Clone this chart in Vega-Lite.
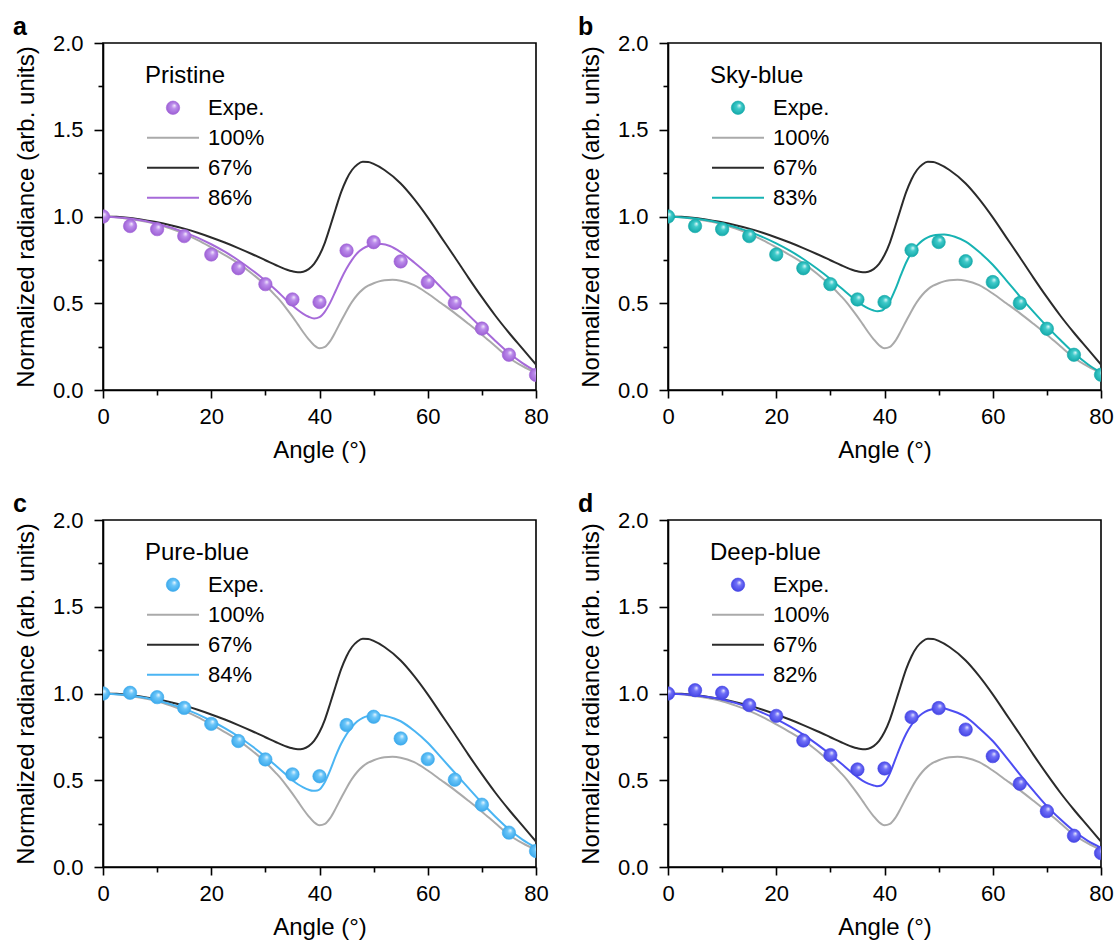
{
  "$schema": "https://vega.github.io/schema/vega-lite/v6.json",
  "autosize": {"type": "pad"},
  "padding": {"left": 12, "top": 14, "right": 5, "bottom": 5},
  "columns": 2,
  "spacing": {"row": 130, "column": 132},
  "bounds": "flush",
  "resolve": {"scale": {"stroke": "independent", "x": "independent", "y": "independent"}, "legend": {"stroke": "independent"}},
  "datasets": {
    "d": [
      {"p":"all","s":"100%","x":0,"y":1.000},{"p":"all","s":"100%","x":2.5,"y":0.996},{"p":"all","s":"100%","x":5,"y":0.985},{"p":"all","s":"100%","x":7.5,"y":0.972},{"p":"all","s":"100%","x":10,"y":0.955},{"p":"all","s":"100%","x":12.5,"y":0.930},{"p":"all","s":"100%","x":15,"y":0.900},{"p":"all","s":"100%","x":17.5,"y":0.864},{"p":"all","s":"100%","x":20,"y":0.822},{"p":"all","s":"100%","x":22.5,"y":0.778},{"p":"all","s":"100%","x":25,"y":0.730},{"p":"all","s":"100%","x":27.5,"y":0.672},{"p":"all","s":"100%","x":30,"y":0.604},{"p":"all","s":"100%","x":32,"y":0.540},{"p":"all","s":"100%","x":33,"y":0.505},{"p":"all","s":"100%","x":34,"y":0.465},{"p":"all","s":"100%","x":35,"y":0.423},{"p":"all","s":"100%","x":36,"y":0.378},{"p":"all","s":"100%","x":37,"y":0.333},{"p":"all","s":"100%","x":38,"y":0.292},{"p":"all","s":"100%","x":39,"y":0.258},{"p":"all","s":"100%","x":40,"y":0.241},{"p":"all","s":"100%","x":41,"y":0.249},{"p":"all","s":"100%","x":42,"y":0.283},{"p":"all","s":"100%","x":43,"y":0.338},{"p":"all","s":"100%","x":44,"y":0.398},{"p":"all","s":"100%","x":45,"y":0.456},{"p":"all","s":"100%","x":46,"y":0.508},{"p":"all","s":"100%","x":47,"y":0.549},{"p":"all","s":"100%","x":48,"y":0.580},{"p":"all","s":"100%","x":49,"y":0.601},{"p":"all","s":"100%","x":50,"y":0.615},{"p":"all","s":"100%","x":51,"y":0.626},{"p":"all","s":"100%","x":52,"y":0.632},{"p":"all","s":"100%","x":53.5,"y":0.635},{"p":"all","s":"100%","x":55,"y":0.630},{"p":"all","s":"100%","x":57.5,"y":0.604},{"p":"all","s":"100%","x":60,"y":0.556},{"p":"all","s":"100%","x":62.5,"y":0.500},{"p":"all","s":"100%","x":65,"y":0.443},{"p":"all","s":"100%","x":67.5,"y":0.382},{"p":"all","s":"100%","x":70,"y":0.319},{"p":"all","s":"100%","x":72.5,"y":0.252},{"p":"all","s":"100%","x":75,"y":0.186},{"p":"all","s":"100%","x":77.5,"y":0.137},{"p":"all","s":"100%","x":80,"y":0.098},

      {"p":"all","s":"67%","x":0,"y":1.000},{"p":"all","s":"67%","x":2.5,"y":0.998},{"p":"all","s":"67%","x":5,"y":0.991},{"p":"all","s":"67%","x":7.5,"y":0.980},{"p":"all","s":"67%","x":10,"y":0.967},{"p":"all","s":"67%","x":12.5,"y":0.950},{"p":"all","s":"67%","x":15,"y":0.930},{"p":"all","s":"67%","x":17.5,"y":0.906},{"p":"all","s":"67%","x":20,"y":0.879},{"p":"all","s":"67%","x":22.5,"y":0.850},{"p":"all","s":"67%","x":25,"y":0.818},{"p":"all","s":"67%","x":27.5,"y":0.784},{"p":"all","s":"67%","x":30,"y":0.748},{"p":"all","s":"67%","x":32,"y":0.719},{"p":"all","s":"67%","x":33,"y":0.705},{"p":"all","s":"67%","x":34,"y":0.693},{"p":"all","s":"67%","x":35,"y":0.684},{"p":"all","s":"67%","x":36,"y":0.679},{"p":"all","s":"67%","x":37,"y":0.682},{"p":"all","s":"67%","x":38,"y":0.697},{"p":"all","s":"67%","x":39,"y":0.727},{"p":"all","s":"67%","x":40,"y":0.778},{"p":"all","s":"67%","x":41,"y":0.850},{"p":"all","s":"67%","x":42,"y":0.945},{"p":"all","s":"67%","x":43,"y":1.045},{"p":"all","s":"67%","x":44,"y":1.140},{"p":"all","s":"67%","x":45,"y":1.215},{"p":"all","s":"67%","x":46,"y":1.268},{"p":"all","s":"67%","x":47,"y":1.300},{"p":"all","s":"67%","x":48,"y":1.315},{"p":"all","s":"67%","x":49,"y":1.314},{"p":"all","s":"67%","x":50,"y":1.303},{"p":"all","s":"67%","x":52,"y":1.268},{"p":"all","s":"67%","x":55,"y":1.190},{"p":"all","s":"67%","x":57.5,"y":1.100},{"p":"all","s":"67%","x":60,"y":0.995},{"p":"all","s":"67%","x":62.5,"y":0.880},{"p":"all","s":"67%","x":65,"y":0.765},{"p":"all","s":"67%","x":67.5,"y":0.648},{"p":"all","s":"67%","x":70,"y":0.535},{"p":"all","s":"67%","x":72.5,"y":0.428},{"p":"all","s":"67%","x":75,"y":0.330},{"p":"all","s":"67%","x":77.5,"y":0.238},{"p":"all","s":"67%","x":80,"y":0.146},

      {"p":"a","s":"86%","x":0,"y":1.000},{"p":"a","s":"86%","x":5,"y":0.988},{"p":"a","s":"86%","x":10,"y":0.958},{"p":"a","s":"86%","x":15,"y":0.910},{"p":"a","s":"86%","x":20,"y":0.840},{"p":"a","s":"86%","x":22.5,"y":0.797},{"p":"a","s":"86%","x":25,"y":0.748},{"p":"a","s":"86%","x":27.5,"y":0.692},{"p":"a","s":"86%","x":30,"y":0.630},{"p":"a","s":"86%","x":32,"y":0.575},{"p":"a","s":"86%","x":34,"y":0.515},{"p":"a","s":"86%","x":35,"y":0.487},{"p":"a","s":"86%","x":36,"y":0.461},{"p":"a","s":"86%","x":37,"y":0.439},{"p":"a","s":"86%","x":38,"y":0.422},{"p":"a","s":"86%","x":39,"y":0.412},{"p":"a","s":"86%","x":40,"y":0.420},{"p":"a","s":"86%","x":41,"y":0.452},{"p":"a","s":"86%","x":42,"y":0.505},{"p":"a","s":"86%","x":43,"y":0.572},{"p":"a","s":"86%","x":44,"y":0.640},{"p":"a","s":"86%","x":45,"y":0.700},{"p":"a","s":"86%","x":46,"y":0.750},{"p":"a","s":"86%","x":47,"y":0.790},{"p":"a","s":"86%","x":48,"y":0.815},{"p":"a","s":"86%","x":49,"y":0.830},{"p":"a","s":"86%","x":50,"y":0.838},{"p":"a","s":"86%","x":51.5,"y":0.841},{"p":"a","s":"86%","x":53,"y":0.830},{"p":"a","s":"86%","x":55,"y":0.795},{"p":"a","s":"86%","x":57.5,"y":0.735},{"p":"a","s":"86%","x":60,"y":0.668},{"p":"a","s":"86%","x":62.5,"y":0.590},{"p":"a","s":"86%","x":65,"y":0.511},{"p":"a","s":"86%","x":67.5,"y":0.433},{"p":"a","s":"86%","x":70,"y":0.357},{"p":"a","s":"86%","x":72.5,"y":0.283},{"p":"a","s":"86%","x":75,"y":0.213},{"p":"a","s":"86%","x":77.5,"y":0.155},{"p":"a","s":"86%","x":80,"y":0.107},

      {"p":"b","s":"83%","x":0,"y":1.000},{"p":"b","s":"83%","x":5,"y":0.988},{"p":"b","s":"83%","x":10,"y":0.960},{"p":"b","s":"83%","x":15,"y":0.913},{"p":"b","s":"83%","x":20,"y":0.845},{"p":"b","s":"83%","x":22.5,"y":0.803},{"p":"b","s":"83%","x":25,"y":0.755},{"p":"b","s":"83%","x":27.5,"y":0.700},{"p":"b","s":"83%","x":30,"y":0.640},{"p":"b","s":"83%","x":32,"y":0.588},{"p":"b","s":"83%","x":34,"y":0.535},{"p":"b","s":"83%","x":35,"y":0.510},{"p":"b","s":"83%","x":36,"y":0.488},{"p":"b","s":"83%","x":37,"y":0.470},{"p":"b","s":"83%","x":38,"y":0.458},{"p":"b","s":"83%","x":38.7,"y":0.454},{"p":"b","s":"83%","x":39.5,"y":0.458},{"p":"b","s":"83%","x":40,"y":0.470},{"p":"b","s":"83%","x":41,"y":0.512},{"p":"b","s":"83%","x":42,"y":0.580},{"p":"b","s":"83%","x":43,"y":0.660},{"p":"b","s":"83%","x":44,"y":0.735},{"p":"b","s":"83%","x":45,"y":0.792},{"p":"b","s":"83%","x":46,"y":0.832},{"p":"b","s":"83%","x":47,"y":0.861},{"p":"b","s":"83%","x":48,"y":0.880},{"p":"b","s":"83%","x":49,"y":0.891},{"p":"b","s":"83%","x":50,"y":0.895},{"p":"b","s":"83%","x":51,"y":0.896},{"p":"b","s":"83%","x":52,"y":0.892},{"p":"b","s":"83%","x":53,"y":0.883},{"p":"b","s":"83%","x":55,"y":0.855},{"p":"b","s":"83%","x":57.5,"y":0.795},{"p":"b","s":"83%","x":60,"y":0.722},{"p":"b","s":"83%","x":62.5,"y":0.632},{"p":"b","s":"83%","x":65,"y":0.540},{"p":"b","s":"83%","x":67.5,"y":0.452},{"p":"b","s":"83%","x":70,"y":0.367},{"p":"b","s":"83%","x":72.5,"y":0.288},{"p":"b","s":"83%","x":75,"y":0.213},{"p":"b","s":"83%","x":77.5,"y":0.150},{"p":"b","s":"83%","x":80,"y":0.100},

      {"p":"c","s":"84%","x":0,"y":1.000},{"p":"c","s":"84%","x":5,"y":0.988},{"p":"c","s":"84%","x":10,"y":0.960},{"p":"c","s":"84%","x":15,"y":0.913},{"p":"c","s":"84%","x":20,"y":0.843},{"p":"c","s":"84%","x":22.5,"y":0.800},{"p":"c","s":"84%","x":25,"y":0.752},{"p":"c","s":"84%","x":27.5,"y":0.697},{"p":"c","s":"84%","x":30,"y":0.636},{"p":"c","s":"84%","x":32,"y":0.582},{"p":"c","s":"84%","x":34,"y":0.527},{"p":"c","s":"84%","x":35,"y":0.500},{"p":"c","s":"84%","x":36,"y":0.477},{"p":"c","s":"84%","x":37,"y":0.459},{"p":"c","s":"84%","x":38,"y":0.445},{"p":"c","s":"84%","x":38.8,"y":0.439},{"p":"c","s":"84%","x":39.6,"y":0.441},{"p":"c","s":"84%","x":40,"y":0.447},{"p":"c","s":"84%","x":41,"y":0.490},{"p":"c","s":"84%","x":42,"y":0.560},{"p":"c","s":"84%","x":43,"y":0.640},{"p":"c","s":"84%","x":44,"y":0.710},{"p":"c","s":"84%","x":45,"y":0.765},{"p":"c","s":"84%","x":46,"y":0.808},{"p":"c","s":"84%","x":47,"y":0.840},{"p":"c","s":"84%","x":48,"y":0.860},{"p":"c","s":"84%","x":49,"y":0.870},{"p":"c","s":"84%","x":50,"y":0.875},{"p":"c","s":"84%","x":51,"y":0.876},{"p":"c","s":"84%","x":52,"y":0.872},{"p":"c","s":"84%","x":53.8,"y":0.856},{"p":"c","s":"84%","x":55,"y":0.840},{"p":"c","s":"84%","x":57.5,"y":0.785},{"p":"c","s":"84%","x":60,"y":0.716},{"p":"c","s":"84%","x":62.5,"y":0.630},{"p":"c","s":"84%","x":65,"y":0.543},{"p":"c","s":"84%","x":67.5,"y":0.456},{"p":"c","s":"84%","x":70,"y":0.370},{"p":"c","s":"84%","x":72.5,"y":0.290},{"p":"c","s":"84%","x":75,"y":0.217},{"p":"c","s":"84%","x":77.5,"y":0.158},{"p":"c","s":"84%","x":80,"y":0.111},

      {"p":"d","s":"82%","x":0,"y":1.000},{"p":"d","s":"82%","x":5,"y":0.990},{"p":"d","s":"82%","x":10,"y":0.965},{"p":"d","s":"82%","x":15,"y":0.920},{"p":"d","s":"82%","x":20,"y":0.852},{"p":"d","s":"82%","x":22.5,"y":0.810},{"p":"d","s":"82%","x":25,"y":0.763},{"p":"d","s":"82%","x":27.5,"y":0.708},{"p":"d","s":"82%","x":30,"y":0.648},{"p":"d","s":"82%","x":32,"y":0.596},{"p":"d","s":"82%","x":34,"y":0.543},{"p":"d","s":"82%","x":35,"y":0.518},{"p":"d","s":"82%","x":36,"y":0.497},{"p":"d","s":"82%","x":37,"y":0.481},{"p":"d","s":"82%","x":38,"y":0.470},{"p":"d","s":"82%","x":38.6,"y":0.466},{"p":"d","s":"82%","x":39.4,"y":0.470},{"p":"d","s":"82%","x":40,"y":0.486},{"p":"d","s":"82%","x":41,"y":0.540},{"p":"d","s":"82%","x":42,"y":0.620},{"p":"d","s":"82%","x":43,"y":0.700},{"p":"d","s":"82%","x":44,"y":0.768},{"p":"d","s":"82%","x":45,"y":0.820},{"p":"d","s":"82%","x":46,"y":0.858},{"p":"d","s":"82%","x":47,"y":0.885},{"p":"d","s":"82%","x":48,"y":0.902},{"p":"d","s":"82%","x":49,"y":0.911},{"p":"d","s":"82%","x":50,"y":0.914},{"p":"d","s":"82%","x":51,"y":0.913},{"p":"d","s":"82%","x":52,"y":0.905},{"p":"d","s":"82%","x":53.5,"y":0.889},{"p":"d","s":"82%","x":55,"y":0.865},{"p":"d","s":"82%","x":57.5,"y":0.800},{"p":"d","s":"82%","x":60,"y":0.726},{"p":"d","s":"82%","x":62.5,"y":0.632},{"p":"d","s":"82%","x":65,"y":0.534},{"p":"d","s":"82%","x":67.5,"y":0.440},{"p":"d","s":"82%","x":70,"y":0.351},{"p":"d","s":"82%","x":72.5,"y":0.275},{"p":"d","s":"82%","x":75,"y":0.207},{"p":"d","s":"82%","x":77.5,"y":0.152},{"p":"d","s":"82%","x":80,"y":0.111},

      {"p":"a","s":"Expe.","x":0,"y":1.0},{"p":"a","s":"Expe.","x":5,"y":0.945},{"p":"a","s":"Expe.","x":10,"y":0.927},{"p":"a","s":"Expe.","x":15,"y":0.887},{"p":"a","s":"Expe.","x":20,"y":0.781},{"p":"a","s":"Expe.","x":25,"y":0.702},{"p":"a","s":"Expe.","x":30,"y":0.610},{"p":"a","s":"Expe.","x":35,"y":0.522},{"p":"a","s":"Expe.","x":40,"y":0.507},{"p":"a","s":"Expe.","x":45,"y":0.804},{"p":"a","s":"Expe.","x":50,"y":0.852},{"p":"a","s":"Expe.","x":55,"y":0.741},{"p":"a","s":"Expe.","x":60,"y":0.622},{"p":"a","s":"Expe.","x":65,"y":0.502},{"p":"a","s":"Expe.","x":70,"y":0.354},{"p":"a","s":"Expe.","x":75,"y":0.203},{"p":"a","s":"Expe.","x":80,"y":0.087},

      {"p":"b","s":"Expe.","x":0,"y":1.0},{"p":"b","s":"Expe.","x":5,"y":0.945},{"p":"b","s":"Expe.","x":10,"y":0.927},{"p":"b","s":"Expe.","x":15,"y":0.887},{"p":"b","s":"Expe.","x":20,"y":0.781},{"p":"b","s":"Expe.","x":25,"y":0.702},{"p":"b","s":"Expe.","x":30,"y":0.610},{"p":"b","s":"Expe.","x":35,"y":0.522},{"p":"b","s":"Expe.","x":40,"y":0.507},{"p":"b","s":"Expe.","x":45,"y":0.806},{"p":"b","s":"Expe.","x":50,"y":0.853},{"p":"b","s":"Expe.","x":55,"y":0.742},{"p":"b","s":"Expe.","x":60,"y":0.622},{"p":"b","s":"Expe.","x":65,"y":0.501},{"p":"b","s":"Expe.","x":70,"y":0.353},{"p":"b","s":"Expe.","x":75,"y":0.203},{"p":"b","s":"Expe.","x":80,"y":0.088},

      {"p":"c","s":"Expe.","x":0,"y":1.0},{"p":"c","s":"Expe.","x":5,"y":1.004},{"p":"c","s":"Expe.","x":10,"y":0.979},{"p":"c","s":"Expe.","x":15,"y":0.917},{"p":"c","s":"Expe.","x":20,"y":0.825},{"p":"c","s":"Expe.","x":25,"y":0.726},{"p":"c","s":"Expe.","x":30,"y":0.620},{"p":"c","s":"Expe.","x":35,"y":0.534},{"p":"c","s":"Expe.","x":40,"y":0.523},{"p":"c","s":"Expe.","x":45,"y":0.818},{"p":"c","s":"Expe.","x":50,"y":0.866},{"p":"c","s":"Expe.","x":55,"y":0.741},{"p":"c","s":"Expe.","x":60,"y":0.622},{"p":"c","s":"Expe.","x":65,"y":0.503},{"p":"c","s":"Expe.","x":70,"y":0.359},{"p":"c","s":"Expe.","x":75,"y":0.198},{"p":"c","s":"Expe.","x":80,"y":0.092},

      {"p":"d","s":"Expe.","x":0,"y":1.0},{"p":"d","s":"Expe.","x":5,"y":1.019},{"p":"d","s":"Expe.","x":10,"y":1.004},{"p":"d","s":"Expe.","x":15,"y":0.933},{"p":"d","s":"Expe.","x":20,"y":0.871},{"p":"d","s":"Expe.","x":25,"y":0.729},{"p":"d","s":"Expe.","x":30,"y":0.645},{"p":"d","s":"Expe.","x":35,"y":0.562},{"p":"d","s":"Expe.","x":40,"y":0.568},{"p":"d","s":"Expe.","x":45,"y":0.864},{"p":"d","s":"Expe.","x":50,"y":0.916},{"p":"d","s":"Expe.","x":55,"y":0.792},{"p":"d","s":"Expe.","x":60,"y":0.639},{"p":"d","s":"Expe.","x":65,"y":0.480},{"p":"d","s":"Expe.","x":70,"y":0.322},{"p":"d","s":"Expe.","x":75,"y":0.180},{"p":"d","s":"Expe.","x":80,"y":0.080}
    ]
  },
  "data": {"name": "d"},
  "concat": [
    {
      "width": 433, "height": 347,
      "title": {"text": "a"},
      "transform": [{"filter": "datum.p === 'a' || datum.p === 'all'"}],
      "encoding": {
        "x": {"field": "x", "type": "quantitative", "scale": {"domain": [0, 80], "nice": false}, "axis": {"values": [0,10,20,30,40,50,60,70,80], "tickSize": {"condition": {"test": "datum.value % 20 === 0", "value": 8}, "value": 5}, "labelExpr": "datum.value % 20 === 0 ? datum.label : ''", "labelPadding": 8, "title": "Angle (°)", "titlePadding": 11, "labelFlush": false}},
        "y": {"field": "y", "type": "quantitative", "scale": {"domain": [0, 2], "nice": false}, "axis": {"values": [0,0.25,0.5,0.75,1,1.25,1.5,1.75,2], "format": ".1f", "tickSize": {"condition": {"test": "datum.value % 0.5 === 0", "value": 9}, "value": 5}, "labelExpr": "datum.value % 0.5 === 0 ? datum.label : ''", "labelPadding": 11, "title": "Normalized radiance (arb. units)", "titlePadding": 14, "labelFlush": false}},
        "stroke": {"field": "s", "type": "nominal", "scale": {"domain": ["Expe.", "100%", "67%", "86%"], "range": ["#9f62d6", "#aaaaaa", "#2b2b2b", "#a66ad9"]},
          "legend": {"title": "Pristine", "orient": "none", "legendX": 42, "legendY": 21,
            "encode": {"symbols": {"update": {"x": {"value": 28}, "shape": {"signal": "datum.value === 'Expe.' ? 'circle' : 'stroke'"}, "size": {"signal": "datum.value === 'Expe.' ? 180 : 2704"}, "fill": {"value": {"gradient": "radial", "x1": 0.62, "y1": 0.32, "r1": 0, "x2": 0.5, "y2": 0.5, "r2": 0.55, "stops": [{"offset": 0, "color": "#f6eefd"}, {"offset": 0.35, "color": "#bb8ceb"}, {"offset": 1, "color": "#9a5bd2"}]}}, "strokeWidth": {"signal": "datum.value === 'Expe.' ? 0.6 : 2"}}}, "labels": {"update": {"x": {"value": 63}}}}}}
      },
      "layer": [
        {"transform": [{"filter": "datum.s !== 'Expe.'"}], "mark": {"type": "line", "strokeWidth": 2, "interpolate": "monotone", "clip": true}},
        {"transform": [{"filter": "datum.s === 'Expe.'"}], "mark": {"type": "point", "filled": true, "opacity": 1, "size": 180, "strokeWidth": 0.6, "clip": true,
          "fill": {"gradient": "radial", "x1": 0.62, "y1": 0.32, "r1": 0, "x2": 0.5, "y2": 0.5, "r2": 0.55, "stops": [{"offset": 0, "color": "#f6eefd"}, {"offset": 0.35, "color": "#bb8ceb"}, {"offset": 1, "color": "#9a5bd2"}]}}}
      ]
    },
    {
      "width": 433, "height": 347,
      "title": {"text": "b"},
      "transform": [{"filter": "datum.p === 'b' || datum.p === 'all'"}],
      "encoding": {
        "x": {"field": "x", "type": "quantitative", "scale": {"domain": [0, 80], "nice": false}, "axis": {"values": [0,10,20,30,40,50,60,70,80], "tickSize": {"condition": {"test": "datum.value % 20 === 0", "value": 8}, "value": 5}, "labelExpr": "datum.value % 20 === 0 ? datum.label : ''", "labelPadding": 8, "title": "Angle (°)", "titlePadding": 11, "labelFlush": false}},
        "y": {"field": "y", "type": "quantitative", "scale": {"domain": [0, 2], "nice": false}, "axis": {"values": [0,0.25,0.5,0.75,1,1.25,1.5,1.75,2], "format": ".1f", "tickSize": {"condition": {"test": "datum.value % 0.5 === 0", "value": 9}, "value": 5}, "labelExpr": "datum.value % 0.5 === 0 ? datum.label : ''", "labelPadding": 11, "title": "Normalized radiance (arb. units)", "titlePadding": 14, "labelFlush": false}},
        "stroke": {"field": "s", "type": "nominal", "scale": {"domain": ["Expe.", "100%", "67%", "83%"], "range": ["#12a9a9", "#aaaaaa", "#2b2b2b", "#17b3b3"]},
          "legend": {"title": "Sky-blue", "orient": "none", "legendX": 42, "legendY": 21,
            "encode": {"symbols": {"update": {"x": {"value": 28}, "shape": {"signal": "datum.value === 'Expe.' ? 'circle' : 'stroke'"}, "size": {"signal": "datum.value === 'Expe.' ? 180 : 2704"}, "fill": {"value": {"gradient": "radial", "x1": 0.62, "y1": 0.32, "r1": 0, "x2": 0.5, "y2": 0.5, "r2": 0.55, "stops": [{"offset": 0, "color": "#e4fbfb"}, {"offset": 0.35, "color": "#3fcaca"}, {"offset": 1, "color": "#10a6a6"}]}}, "strokeWidth": {"signal": "datum.value === 'Expe.' ? 0.6 : 2"}}}, "labels": {"update": {"x": {"value": 63}}}}}}
      },
      "layer": [
        {"transform": [{"filter": "datum.s !== 'Expe.'"}], "mark": {"type": "line", "strokeWidth": 2, "interpolate": "monotone", "clip": true}},
        {"transform": [{"filter": "datum.s === 'Expe.'"}], "mark": {"type": "point", "filled": true, "opacity": 1, "size": 180, "strokeWidth": 0.6, "clip": true,
          "fill": {"gradient": "radial", "x1": 0.62, "y1": 0.32, "r1": 0, "x2": 0.5, "y2": 0.5, "r2": 0.55, "stops": [{"offset": 0, "color": "#e4fbfb"}, {"offset": 0.35, "color": "#3fcaca"}, {"offset": 1, "color": "#10a6a6"}]}}}
      ]
    },
    {
      "width": 433, "height": 347,
      "title": {"text": "c"},
      "transform": [{"filter": "datum.p === 'c' || datum.p === 'all'"}],
      "encoding": {
        "x": {"field": "x", "type": "quantitative", "scale": {"domain": [0, 80], "nice": false}, "axis": {"values": [0,10,20,30,40,50,60,70,80], "tickSize": {"condition": {"test": "datum.value % 20 === 0", "value": 8}, "value": 5}, "labelExpr": "datum.value % 20 === 0 ? datum.label : ''", "labelPadding": 8, "title": "Angle (°)", "titlePadding": 11, "labelFlush": false}},
        "y": {"field": "y", "type": "quantitative", "scale": {"domain": [0, 2], "nice": false}, "axis": {"values": [0,0.25,0.5,0.75,1,1.25,1.5,1.75,2], "format": ".1f", "tickSize": {"condition": {"test": "datum.value % 0.5 === 0", "value": 9}, "value": 5}, "labelExpr": "datum.value % 0.5 === 0 ? datum.label : ''", "labelPadding": 11, "title": "Normalized radiance (arb. units)", "titlePadding": 14, "labelFlush": false}},
        "stroke": {"field": "s", "type": "nominal", "scale": {"domain": ["Expe.", "100%", "67%", "84%"], "range": ["#3aa9ec", "#aaaaaa", "#2b2b2b", "#4bb5f3"]},
          "legend": {"title": "Pure-blue", "orient": "none", "legendX": 42, "legendY": 21,
            "encode": {"symbols": {"update": {"x": {"value": 28}, "shape": {"signal": "datum.value === 'Expe.' ? 'circle' : 'stroke'"}, "size": {"signal": "datum.value === 'Expe.' ? 180 : 2704"}, "fill": {"value": {"gradient": "radial", "x1": 0.62, "y1": 0.32, "r1": 0, "x2": 0.5, "y2": 0.5, "r2": 0.55, "stops": [{"offset": 0, "color": "#eef9ff"}, {"offset": 0.35, "color": "#6cc6f9"}, {"offset": 1, "color": "#36a6ea"}]}}, "strokeWidth": {"signal": "datum.value === 'Expe.' ? 0.6 : 2"}}}, "labels": {"update": {"x": {"value": 63}}}}}}
      },
      "layer": [
        {"transform": [{"filter": "datum.s !== 'Expe.'"}], "mark": {"type": "line", "strokeWidth": 2, "interpolate": "monotone", "clip": true}},
        {"transform": [{"filter": "datum.s === 'Expe.'"}], "mark": {"type": "point", "filled": true, "opacity": 1, "size": 180, "strokeWidth": 0.6, "clip": true,
          "fill": {"gradient": "radial", "x1": 0.62, "y1": 0.32, "r1": 0, "x2": 0.5, "y2": 0.5, "r2": 0.55, "stops": [{"offset": 0, "color": "#eef9ff"}, {"offset": 0.35, "color": "#6cc6f9"}, {"offset": 1, "color": "#36a6ea"}]}}}
      ]
    },
    {
      "width": 433, "height": 347,
      "title": {"text": "d"},
      "transform": [{"filter": "datum.p === 'd' || datum.p === 'all'"}],
      "encoding": {
        "x": {"field": "x", "type": "quantitative", "scale": {"domain": [0, 80], "nice": false}, "axis": {"values": [0,10,20,30,40,50,60,70,80], "tickSize": {"condition": {"test": "datum.value % 20 === 0", "value": 8}, "value": 5}, "labelExpr": "datum.value % 20 === 0 ? datum.label : ''", "labelPadding": 8, "title": "Angle (°)", "titlePadding": 11, "labelFlush": false}},
        "y": {"field": "y", "type": "quantitative", "scale": {"domain": [0, 2], "nice": false}, "axis": {"values": [0,0.25,0.5,0.75,1,1.25,1.5,1.75,2], "format": ".1f", "tickSize": {"condition": {"test": "datum.value % 0.5 === 0", "value": 9}, "value": 5}, "labelExpr": "datum.value % 0.5 === 0 ? datum.label : ''", "labelPadding": 11, "title": "Normalized radiance (arb. units)", "titlePadding": 14, "labelFlush": false}},
        "stroke": {"field": "s", "type": "nominal", "scale": {"domain": ["Expe.", "100%", "67%", "82%"], "range": ["#4343e6", "#aaaaaa", "#2b2b2b", "#4d4df2"]},
          "legend": {"title": "Deep-blue", "orient": "none", "legendX": 42, "legendY": 21,
            "encode": {"symbols": {"update": {"x": {"value": 28}, "shape": {"signal": "datum.value === 'Expe.' ? 'circle' : 'stroke'"}, "size": {"signal": "datum.value === 'Expe.' ? 180 : 2704"}, "fill": {"value": {"gradient": "radial", "x1": 0.62, "y1": 0.32, "r1": 0, "x2": 0.5, "y2": 0.5, "r2": 0.55, "stops": [{"offset": 0, "color": "#ececff"}, {"offset": 0.35, "color": "#7070f8"}, {"offset": 1, "color": "#4040e2"}]}}, "strokeWidth": {"signal": "datum.value === 'Expe.' ? 0.6 : 2"}}}, "labels": {"update": {"x": {"value": 63}}}}}}
      },
      "layer": [
        {"transform": [{"filter": "datum.s !== 'Expe.'"}], "mark": {"type": "line", "strokeWidth": 2, "interpolate": "monotone", "clip": true}},
        {"transform": [{"filter": "datum.s === 'Expe.'"}], "mark": {"type": "point", "filled": true, "opacity": 1, "size": 180, "strokeWidth": 0.6, "clip": true,
          "fill": {"gradient": "radial", "x1": 0.62, "y1": 0.32, "r1": 0, "x2": 0.5, "y2": 0.5, "r2": 0.55, "stops": [{"offset": 0, "color": "#ececff"}, {"offset": 0.35, "color": "#7070f8"}, {"offset": 1, "color": "#4040e2"}]}}}
      ]
    }
  ],
  "config": {
    "font": "Liberation Sans",
    "background": "white",
    "view": {"stroke": "black", "strokeWidth": 1.6},
    "axis": {"domainColor": "black", "domainWidth": 1.6, "tickColor": "black", "tickWidth": 1.6, "labelColor": "black", "labelFontSize": 22, "labelFont": "Liberation Sans", "titleFontSize": 24, "titleFont": "Liberation Sans", "titleFontWeight": "normal", "titleColor": "black", "grid": false},
    "legend": {"titleFontSize": 24, "titleFontWeight": "normal", "titleColor": "black", "titleFont": "Liberation Sans", "labelFontSize": 22, "labelFont": "Liberation Sans", "labelColor": "black", "symbolSize": 2704, "symbolStrokeWidth": 2, "symbolType": "stroke", "clipHeight": 29.5, "rowPadding": 0, "labelOffset": 6, "titlePadding": 5, "padding": 0},
    "title": {"fontSize": 25, "fontWeight": "bold", "font": "Liberation Sans", "color": "black", "anchor": "start", "frame": "group", "dx": -90, "offset": -8}
  }
}
